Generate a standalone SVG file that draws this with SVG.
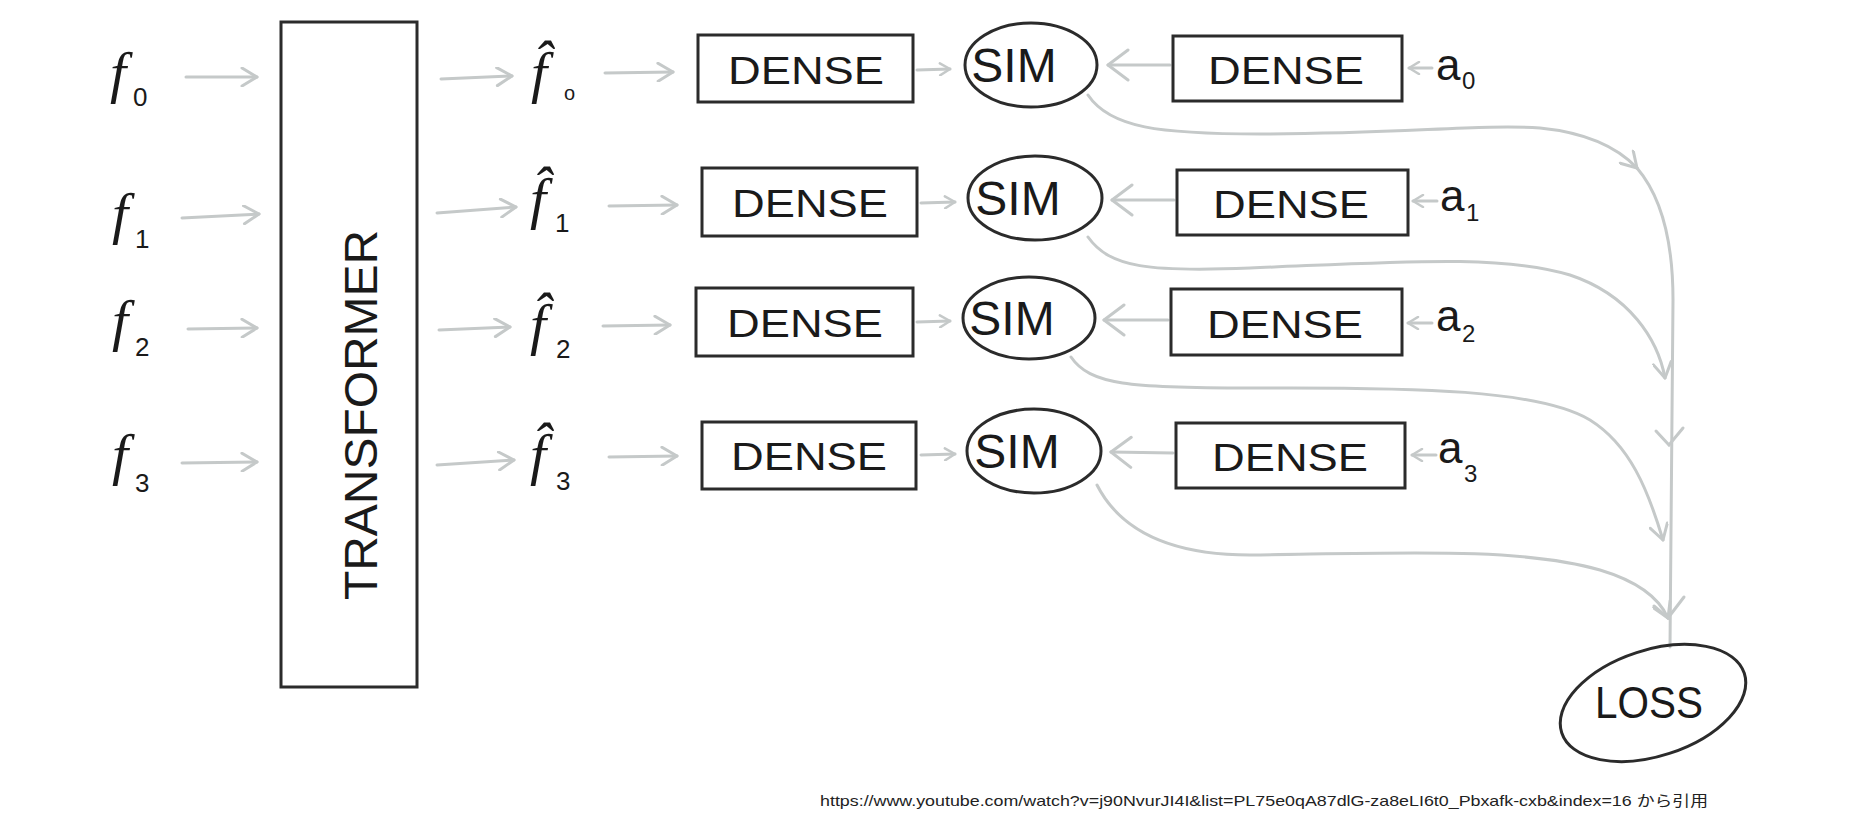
<svg xmlns="http://www.w3.org/2000/svg" width="1855" height="832" viewBox="0 0 1855 832">
<style>
.bg{fill:#ffffff}
.box{fill:none;stroke:#2b2b2b;stroke-width:3}
.ell{fill:none;stroke:#2b2b2b;stroke-width:3}
.lbl{font-family:"Liberation Sans",Arial,sans-serif;fill:#1a1a1a}
.fn{font-family:"Liberation Serif","Times New Roman",serif;font-style:italic;fill:#1a1a1a}
.sub{font-family:"Liberation Sans",Arial,sans-serif;font-style:normal}
.con{fill:none;stroke:#c5c9c9;stroke-width:3;stroke-linecap:round}
.arr{marker-end:url(#ah)}
.arrs{marker-end:url(#ahs)}
.arrl{marker-end:url(#ahl)}
.foot{font-family:"Liberation Sans","Noto Sans CJK JP",sans-serif;font-size:15px;fill:#222}
</style>
<defs>
<marker id="ah" viewBox="0 0 20 20" refX="18" refY="10" markerWidth="20" markerHeight="20" markerUnits="userSpaceOnUse" orient="auto">
<path d="M3,1 L18,10 L3,19" fill="none" stroke="#c5c9c9" stroke-width="3" stroke-linecap="round" stroke-linejoin="round"/>
</marker>
<marker id="ahs" viewBox="0 0 14 14" refX="12" refY="7" markerWidth="14" markerHeight="14" markerUnits="userSpaceOnUse" orient="auto">
<path d="M2,1 L12,7 L2,13" fill="none" stroke="#c5c9c9" stroke-width="2.5" stroke-linecap="round" stroke-linejoin="round"/>
</marker>
<marker id="ahl" viewBox="0 0 26 34" refX="24" refY="17" markerWidth="26" markerHeight="34" markerUnits="userSpaceOnUse" orient="auto">
<path d="M4,2 L24,17 L4,32" fill="none" stroke="#c5c9c9" stroke-width="3" stroke-linecap="round" stroke-linejoin="round"/>
</marker>
</defs>
<rect class="bg" x="0" y="0" width="1855" height="832"/>

<g id="connectors">
<path class="con arr" d="M186,77 L257,77"/>
<path class="con arr" d="M182,218 L259,214"/>
<path class="con arr" d="M188,329 L257,328"/>
<path class="con arr" d="M182,463 L257,462"/>
<path class="con arr" d="M441,79 L512,76"/>
<path class="con arr" d="M437,213 L516,207"/>
<path class="con arr" d="M439,330 L510,327"/>
<path class="con arr" d="M437,465 L514,460"/>
<path class="con arr" d="M605,73 L673,72"/>
<path class="con arr" d="M609,206 L677,205"/>
<path class="con arr" d="M603,326 L670,325"/>
<path class="con arr" d="M609,457 L677,456"/>
<path class="con arrs" d="M917,70 L950,69"/>
<path class="con arrs" d="M921,203 L955,202"/>
<path class="con arrs" d="M917,322 L950,321"/>
<path class="con arrs" d="M921,455 L955,454"/>
<path class="con arrl" d="M1170,65 L1108,65"/>
<path class="con arrl" d="M1174,200 L1112,200"/>
<path class="con arrl" d="M1168,320 L1104,320"/>
<path class="con arrl" d="M1173,453 L1111,452"/>
<path class="con arrs" d="M1432,68 L1409,68"/>
<path class="con arrs" d="M1437,201 L1413,201"/>
<path class="con arrs" d="M1432,323 L1408,323"/>
<path class="con arrs" d="M1436,455 L1412,455"/>
<path class="con arr" d="M1088,95 C1110,128 1160,134 1260,134 C1400,134 1480,124 1540,128 C1590,133 1620,150 1637,168"/>
<path class="con arr" d="M1088,237 C1110,268 1150,272 1250,268 C1400,262 1500,254 1570,275 C1630,295 1658,340 1665,378"/>
<path class="con arr" d="M1071,357 C1090,385 1130,388 1250,388 C1420,387 1540,390 1590,420 C1630,445 1648,490 1663,540"/>
<path class="con arr" d="M1097,485 C1120,530 1170,555 1250,555 C1400,553 1520,547 1600,570 C1640,582 1660,600 1668,618"/>
<path class="con" d="M1637,168 C1660,195 1673,240 1673,300 L1670,647"/>
<path class="con" d="M1656,431 L1669,445 L1683,428"/>
<path class="con" d="M1654,606 L1668,618 L1684,597"/>
</g>

<g id="f0"><text class="fn" x="110" y="92" font-size="58">f<tspan class="sub" x="133" y="106" font-size="26">0</tspan></text></g>
<g id="f1"><text class="fn" x="112" y="233" font-size="58">f<tspan class="sub" x="135" y="248" font-size="26">1</tspan></text></g>
<g id="f2"><text class="fn" x="112" y="340" font-size="58">f<tspan class="sub" x="135" y="356" font-size="26">2</tspan></text></g>
<g id="f3"><text class="fn" x="112" y="474" font-size="58">f<tspan class="sub" x="135" y="492" font-size="26">3</tspan></text></g>

<g id="transformer">
<rect class="box" x="281" y="22" width="136" height="665"/>
<text class="lbl" x="361" y="415" font-size="46" text-anchor="middle" dominant-baseline="central" textLength="370" lengthAdjust="spacingAndGlyphs" transform="rotate(-90 361 415)">TRANSFORMER</text>
</g>

<g id="fhat0"><text class="fn" x="531" y="92" font-size="58">f&#770;<tspan class="sub" x="564" y="100" font-size="20">o</tspan></text></g>
<g id="fhat1"><text class="fn" x="530" y="218" font-size="58">f&#770;<tspan class="sub" x="555" y="232" font-size="26">1</tspan></text></g>
<g id="fhat2"><text class="fn" x="530" y="344" font-size="58">f&#770;<tspan class="sub" x="556" y="358" font-size="26">2</tspan></text></g>
<g id="fhat3"><text class="fn" x="530" y="474" font-size="58">f&#770;<tspan class="sub" x="556" y="490" font-size="26">3</tspan></text></g>

<g id="dense_l0"><rect class="box" x="698" y="35" width="215" height="67"/><text class="lbl" x="806" y="84" font-size="38" text-anchor="middle" textLength="156" lengthAdjust="spacingAndGlyphs">DENSE</text></g>
<g id="dense_l1"><rect class="box" x="702" y="168" width="215" height="68"/><text class="lbl" x="810" y="217" font-size="38" text-anchor="middle" textLength="156" lengthAdjust="spacingAndGlyphs">DENSE</text></g>
<g id="dense_l2"><rect class="box" x="696" y="288" width="217" height="68"/><text class="lbl" x="805" y="337" font-size="38" text-anchor="middle" textLength="156" lengthAdjust="spacingAndGlyphs">DENSE</text></g>
<g id="dense_l3"><rect class="box" x="702" y="422" width="214" height="67"/><text class="lbl" x="809" y="470" font-size="38" text-anchor="middle" textLength="156" lengthAdjust="spacingAndGlyphs">DENSE</text></g>

<g id="sim0"><ellipse class="ell" cx="1031" cy="65" rx="66" ry="42"/><text class="lbl" x="1014" y="82" font-size="48" text-anchor="middle">SIM</text></g>
<g id="sim1"><ellipse class="ell" cx="1035" cy="198" rx="67" ry="42"/><text class="lbl" x="1018" y="215" font-size="48" text-anchor="middle">SIM</text></g>
<g id="sim2"><ellipse class="ell" cx="1029" cy="318" rx="66" ry="41"/><text class="lbl" x="1012" y="335" font-size="48" text-anchor="middle">SIM</text></g>
<g id="sim3"><ellipse class="ell" cx="1034" cy="451" rx="67" ry="42"/><text class="lbl" x="1017" y="468" font-size="48" text-anchor="middle">SIM</text></g>

<g id="dense_r0"><rect class="box" x="1173" y="36" width="229" height="65"/><text class="lbl" x="1286" y="84" font-size="38" text-anchor="middle" textLength="156" lengthAdjust="spacingAndGlyphs">DENSE</text></g>
<g id="dense_r1"><rect class="box" x="1177" y="170" width="231" height="65"/><text class="lbl" x="1291" y="218" font-size="38" text-anchor="middle" textLength="156" lengthAdjust="spacingAndGlyphs">DENSE</text></g>
<g id="dense_r2"><rect class="box" x="1171" y="289" width="231" height="66"/><text class="lbl" x="1285" y="338" font-size="38" text-anchor="middle" textLength="156" lengthAdjust="spacingAndGlyphs">DENSE</text></g>
<g id="dense_r3"><rect class="box" x="1176" y="423" width="229" height="65"/><text class="lbl" x="1290" y="471" font-size="38" text-anchor="middle" textLength="156" lengthAdjust="spacingAndGlyphs">DENSE</text></g>

<g id="a0"><text class="lbl" x="1436" y="80" font-size="44">a<tspan x="1462" y="89" font-size="24">0</tspan></text></g>
<g id="a1"><text class="lbl" x="1440" y="211" font-size="44">a<tspan x="1466" y="221" font-size="24">1</tspan></text></g>
<g id="a2"><text class="lbl" x="1436" y="331" font-size="44">a<tspan x="1462" y="342" font-size="24">2</tspan></text></g>
<g id="a3"><text class="lbl" x="1438" y="463" font-size="44">a<tspan x="1464" y="482" font-size="24">3</tspan></text></g>

<g id="loss"><ellipse class="ell" cx="1653" cy="703" rx="96" ry="53" transform="rotate(-18 1653 703)"/><text class="lbl" x="1649" y="718" font-size="44" text-anchor="middle" textLength="108" lengthAdjust="spacingAndGlyphs">LOSS</text></g>

<text class="foot" x="820" y="806" textLength="888" lengthAdjust="spacingAndGlyphs">https://www.youtube.com/watch?v=j90NvurJI4I&amp;list=PL75e0qA87dlG-za8eLI6t0_Pbxafk-cxb&amp;index=16 から引用</text>
</svg>
